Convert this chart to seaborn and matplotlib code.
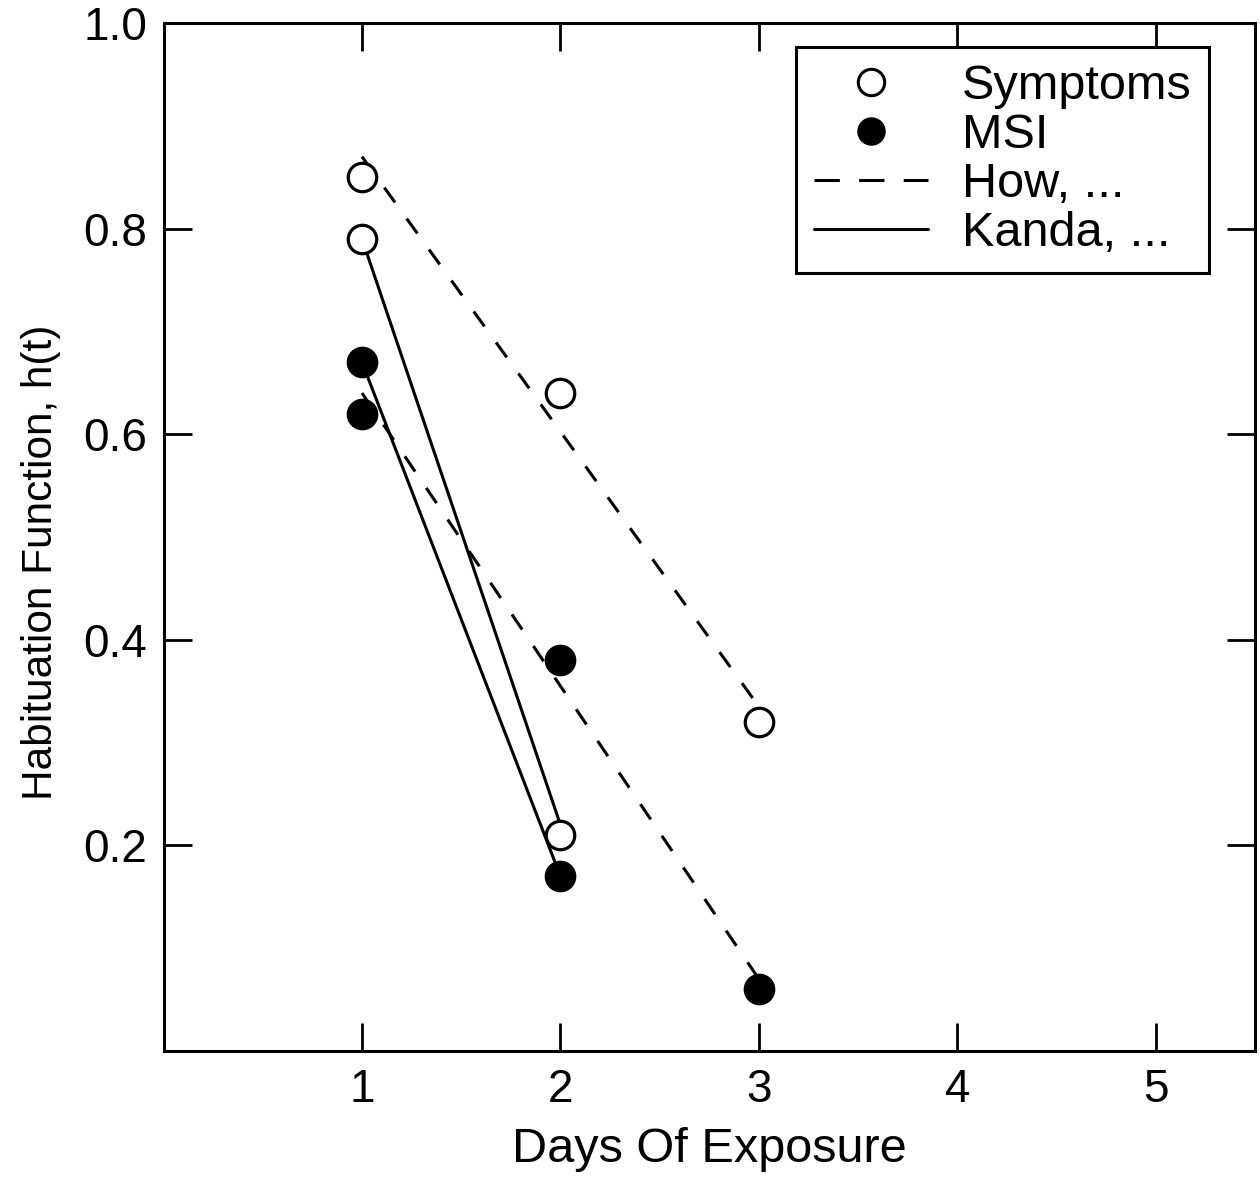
import matplotlib
matplotlib.use("Agg")
import matplotlib.pyplot as plt
import seaborn as sns
import pandas as pd
from matplotlib.lines import Line2D

# ---- data ----
symptom_days = [1, 1, 2, 2, 3]
symptom_vals = [0.85, 0.79, 0.64, 0.21, 0.32]
msi_days = [1, 1, 2, 2, 3]
msi_vals = [0.67, 0.62, 0.38, 0.17, 0.06]

how_days = [1, 3]
how_symptoms = [0.87, 0.335]
how_msi = [0.64, 0.07]

kanda_days = [1, 2]
kanda_symptoms = [0.79, 0.22]
kanda_msi = [0.67, 0.17]

x_ticks = [1, 2, 3, 4, 5]
y_ticks = [0.2, 0.4, 0.6, 0.8, 1.0]
y_tick_labels = ["0.2", "0.4", "0.6", "0.8", "1.0"]
legend_labels = ["Symptoms", "MSI", "How, ...", "Kanda, ..."]

sns.set_theme(style="ticks")
plt.rcParams["font.family"] = ["Liberation Sans", "DejaVu Sans"]

fig = plt.figure(figsize=(12.6, 11.79), dpi=100)
ax = fig.add_axes([0.1298, 0.1086, 0.8662, 0.8719])

LW = 2.2
dash = (6, 6.5)

for ys in (how_symptoms, how_msi):
    df = pd.DataFrame({"day": how_days, "h": ys})
    sns.lineplot(data=df, x="day", y="h", ax=ax, color="black", lw=LW,
                 linestyle=(0, dash), zorder=2, legend=False)
for ys in (kanda_symptoms, kanda_msi):
    df = pd.DataFrame({"day": kanda_days, "h": ys})
    sns.lineplot(data=df, x="day", y="h", ax=ax, color="black", lw=LW,
                 zorder=2, legend=False)

sdf = pd.DataFrame({"day": symptom_days, "h": symptom_vals})
mdf = pd.DataFrame({"day": msi_days, "h": msi_vals})
sns.scatterplot(data=sdf, x="day", y="h", ax=ax, s=20.5**2, marker="o",
                facecolor="white", edgecolor="black", linewidth=2.3, zorder=3)
sns.scatterplot(data=mdf, x="day", y="h", ax=ax, s=20.5**2, marker="o",
                facecolor="black", edgecolor="black", linewidth=2.3, zorder=3)

ax.set_xlim(0, 5.5)
ax.set_ylim(0, 1.0)
ax.set_xticks(x_ticks)
ax.set_xticklabels([str(v) for v in x_ticks])
ax.set_yticks(y_ticks)
ax.set_yticklabels(y_tick_labels)
ax.tick_params(direction="in", length=20, width=2, labelsize=33,
               top=True, right=True, pad=12, color="black", labelcolor="black")
for sp in ax.spines.values():
    sp.set_visible(True)
    sp.set_linewidth(2.2)
    sp.set_color("black")

ax.set_xlabel("Days Of Exposure", fontsize=35, labelpad=11, color="black")
ax.set_ylabel("Habituation Function, h(t)", fontsize=30.5, labelpad=16, color="black")
ax.yaxis.label.set_y(0.475)

handles = [
    Line2D([], [], marker="o", ls="none", markersize=19, markerfacecolor="white",
           markeredgecolor="black", markeredgewidth=2.2),
    Line2D([], [], marker="o", ls="none", markersize=19.5, markerfacecolor="black",
           markeredgecolor="black"),
    Line2D([], [], color="black", lw=LW, linestyle=(0, (8.3, 6.3))),
    Line2D([], [], color="black", lw=LW),
]
leg = ax.legend(handles, legend_labels, loc="upper right",
                bbox_to_anchor=(0.958, 0.977),
                borderaxespad=0, fontsize=35, frameon=True, fancybox=False,
                edgecolor="black", framealpha=1, handlelength=2.35,
                handletextpad=0.7, labelspacing=0.08, borderpad=0.36)
leg.get_frame().set_linewidth(2.2)
for t in leg.get_texts():
    t.set_color("black")

fig.savefig("out.png", dpi=100, facecolor="white")
